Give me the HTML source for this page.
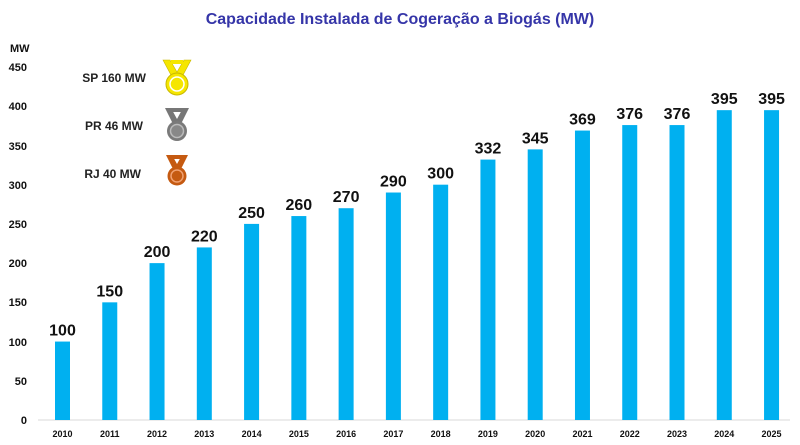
<!DOCTYPE html>
<html><head><meta charset="utf-8"><style>body{margin:0;background:#fff}svg{display:block}</style></head><body>
<svg width="800" height="445" xmlns="http://www.w3.org/2000/svg" font-family="Liberation Sans, sans-serif" font-weight="bold">
<rect width="800" height="445" fill="#fff"/>
<text x="400" y="24" text-anchor="middle" font-size="16" fill="#3535a8">Capacidade Instalada de Cogeração a Biogás (MW)</text>
<text x="10" y="52" font-size="11" fill="#111">MW</text>
<g font-size="11" fill="#111" text-anchor="end">
<text x="27" y="424">0</text><text x="27" y="385">50</text><text x="27" y="346">100</text><text x="27" y="306">150</text><text x="27" y="267">200</text><text x="27" y="228">250</text><text x="27" y="189">300</text><text x="27" y="150">350</text><text x="27" y="110">400</text><text x="27" y="71">450</text>
</g>
<line x1="38" y1="420" x2="790" y2="420" stroke="#d9d9d9" stroke-width="1"/>
<g fill="#00b0f0">
<rect x="55" y="341.56" width="15" height="78.44"/>
<rect x="102.27" y="302.34" width="15" height="117.66"/>
<rect x="149.54" y="263.12" width="15" height="156.88"/>
<rect x="196.81" y="247.43" width="15" height="172.57"/>
<rect x="244.08" y="223.9" width="15" height="196.1"/>
<rect x="291.35" y="216.06" width="15" height="203.94"/>
<rect x="338.62" y="208.21" width="15" height="211.79"/>
<rect x="385.89" y="192.52" width="15" height="227.48"/>
<rect x="433.16" y="184.68" width="15" height="235.32"/>
<rect x="480.43" y="159.58" width="15" height="260.42"/>
<rect x="527.7" y="149.38" width="15" height="270.62"/>
<rect x="574.97" y="130.56" width="15" height="289.44"/>
<rect x="622.24" y="125.07" width="15" height="294.93"/>
<rect x="669.51" y="125.07" width="15" height="294.93"/>
<rect x="716.78" y="110.16" width="15" height="309.84"/>
<rect x="764.05" y="110.16" width="15" height="309.84"/>
</g>
<g font-size="16" fill="#111" text-anchor="middle">
<text x="62.5" y="335.5">100</text>
<text x="109.77" y="296.3">150</text>
<text x="157.04" y="257.1">200</text>
<text x="204.31" y="241.4">220</text>
<text x="251.58" y="217.9">250</text>
<text x="298.85" y="210">260</text>
<text x="346.12" y="202.2">270</text>
<text x="393.39" y="186.5">290</text>
<text x="440.66" y="178.7">300</text>
<text x="487.93" y="153.6">332</text>
<text x="535.2" y="143.4">345</text>
<text x="582.47" y="124.6">369</text>
<text x="629.74" y="119.1">376</text>
<text x="677.01" y="119.1">376</text>
<text x="724.28" y="104.2">395</text>
<text x="771.55" y="104.2">395</text>
</g>
<g font-size="9" fill="#111" text-anchor="middle">
<text x="62.5" y="437">2010</text><text x="109.77" y="437">2011</text><text x="157.04" y="437">2012</text><text x="204.31" y="437">2013</text><text x="251.58" y="437">2014</text><text x="298.85" y="437">2015</text><text x="346.12" y="437">2016</text><text x="393.39" y="437">2017</text><text x="440.66" y="437">2018</text><text x="487.93" y="437">2019</text><text x="535.2" y="437">2020</text><text x="582.47" y="437">2021</text><text x="629.74" y="437">2022</text><text x="677.01" y="437">2023</text><text x="724.28" y="437">2024</text><text x="771.55" y="437">2025</text>
</g>
<g font-size="12" fill="#222" text-anchor="end">
<text x="146" y="82">SP 160 MW</text>
<text x="143" y="130">PR 46 MW</text>
<text x="141" y="178">RJ 40 MW</text>
</g>
<g>
<path d="M163 60 L170 60 L177 72 L184 60 L191 60 L182 77 L172 77 Z" fill="#f5e600" stroke="#c8b800" stroke-width="0.6"/>
<rect x="171" y="60" width="12" height="4" fill="#f5e600"/>
<circle cx="177" cy="84" r="11" fill="#f5e600" stroke="#c8b800"/><circle cx="177" cy="84" r="7" fill="none" stroke="#fff" stroke-width="1.5"/>
<path d="M165 108 L171 108 L177 119 L183 108 L189 108 L181 124 L173 124 Z" fill="#777"/>
<rect x="171" y="108" width="12" height="4" fill="#777"/>
<circle cx="177" cy="131" r="10" fill="#7a7a7a"/><circle cx="177" cy="131" r="6.5" fill="#888" stroke="#bbb" stroke-width="1.5"/>
<path d="M166 155 L172 155 L177 164 L182 155 L188 155 L181 169 L173 169 Z" fill="#c55a11"/>
<rect x="171" y="155" width="12" height="4" fill="#c55a11"/>
<circle cx="177" cy="176" r="9.5" fill="#c55a11"/><circle cx="177" cy="176" r="6" fill="#c55a11" stroke="#f0a070" stroke-width="1.5"/>
</g>
</svg>
</body></html>
